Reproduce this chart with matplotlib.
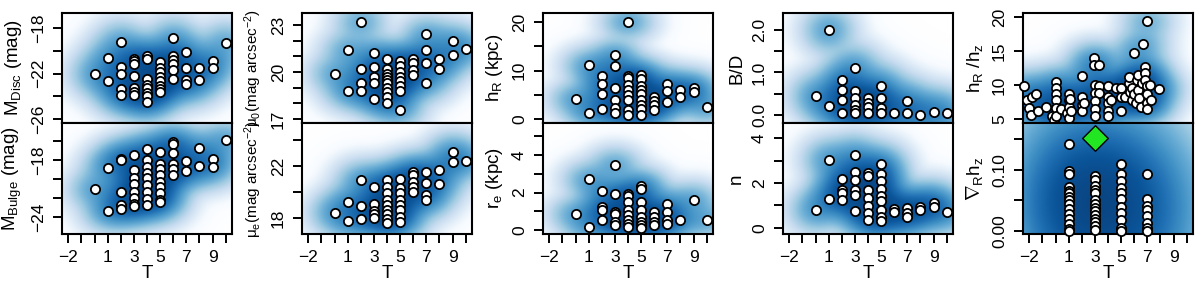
import numpy as np
import matplotlib
matplotlib.use("Agg")
import matplotlib.pyplot as plt
from matplotlib.colors import LinearSegmentedColormap

plt.rcParams['font.family'] = ['Liberation Sans', 'DejaVu Sans']
plt.rcParams['mathtext.fontset'] = 'custom'
plt.rcParams['mathtext.rm'] = 'Liberation Sans'
plt.rcParams['mathtext.it'] = 'Liberation Sans:italic'

# ---- data ----
t_disc = [0, 1, 1, 2, 2, 2, 2, 2, 3, 3, 3, 3, 3, 3, 3, 4, 4, 4, 4, 4, 4, 4, 4,
          5, 5, 5, 5, 5, 5, 5, 5, 6, 6, 6, 6, 6, 6, 7, 7, 7, 7, 8, 8, 9, 9, 10]
m_disc = [-22.0, -20.6, -22.7, -19.2, -21.4, -22.0, -23.4, -23.9,
          -20.7, -20.9, -21.2, -22.2, -23.3, -23.6, -23.9,
          -20.5, -20.7, -22.5, -23.0, -23.3, -23.7, -24.0, -24.5,
          -21.0, -21.5, -21.9, -22.3, -22.7, -23.1, -23.4, -23.6,
          -18.9, -20.5, -20.8, -21.2, -21.7, -22.5,
          -20.1, -21.5, -22.6, -22.9, -21.5, -22.6, -20.9, -21.5, -19.3]

t_bulge = [0, 1, 1, 2, 2, 2, 2, 2, 3, 3, 3, 3, 3, 3, 3, 3, 4, 4, 4, 4, 4, 4, 4, 4, 4,
           5, 5, 5, 5, 5, 5, 5, 5, 5, 6, 6, 6, 6, 6, 6, 7, 7, 8, 8, 9, 9, 10]
m_bulge = [-21.1, -18.8, -23.4, -17.9, -18.0, -21.4, -22.7, -23.2,
           -17.5, -19.1, -19.9, -20.5, -21.4, -22.0, -22.6, -22.9,
           -16.8, -18.0, -18.7, -19.4, -19.9, -20.6, -21.4, -22.1, -22.7,
           -17.2, -18.4, -18.9, -19.6, -20.3, -20.8, -21.5, -22.2, -22.4,
           -16.1, -16.3, -17.3, -18.4, -18.9, -19.6,
           -18.1, -19.2, -16.7, -18.6, -17.9, -18.7, -15.9]

t_mu0 = [0, 1, 1, 2, 2, 2, 2, 3, 3, 3, 3, 3, 4, 4, 4, 4, 4, 4, 4, 4, 4, 4,
         5, 5, 5, 5, 5, 5, 5, 5, 6, 6, 6, 6, 7, 7, 7, 7, 8, 8, 9, 9, 10]
mu0 = [19.9, 21.4, 18.8, 23.2, 20.2, 19.3, 18.8, 21.2, 20.3, 19.7, 19.3, 18.3,
       20.8, 20.2, 19.9, 19.7, 19.5, 19.3, 19.0, 18.7, 18.4, 18.0,
       20.7, 20.4, 20.0, 19.7, 19.4, 19.1, 18.8, 17.6,
       20.8, 20.6, 20.1, 19.8, 22.4, 21.4, 20.6, 19.3, 20.8, 20.2, 22.0, 21.1, 21.5]

t_mue = [0, 1, 1, 2, 2, 2, 3, 3, 3, 3, 3, 4, 4, 4, 4, 4, 4, 4, 4, 4,
         5, 5, 5, 5, 5, 5, 5, 5, 6, 6, 6, 6, 6, 7, 7, 7, 7, 8, 8, 9, 9, 10]
mue = [18.4, 19.2, 17.8, 20.9, 18.9, 17.9, 20.4, 19.1, 18.5, 18.3, 18.0,
       20.9, 20.4, 19.9, 19.4, 19.0, 18.6, 18.3, 17.9, 17.6,
       21.0, 20.3, 19.9, 19.4, 19.0, 18.6, 18.1, 17.7,
       21.5, 21.3, 20.8, 20.4, 20.0, 21.5, 20.7, 19.8, 19.4, 21.7, 20.6, 23.1, 22.3, 22.4]

t_hr = [0, 1, 1, 2, 2, 2, 2, 3, 3, 3, 3, 3, 3, 4, 4, 4, 4, 4, 4, 4, 4, 4,
        5, 5, 5, 5, 5, 5, 5, 5, 5, 6, 6, 6, 6, 7, 7, 7, 8, 8, 9, 9, 10]
hr = [4.1, 11.1, 1.3, 9.0, 7.3, 5.1, 2.0, 13.2, 10.9, 6.5, 3.9, 2.2, 1.3,
      20.1, 9.0, 8.4, 7.0, 6.0, 4.9, 4.0, 1.8, 0.8,
      9.2, 8.2, 6.8, 6.0, 5.1, 4.0, 2.9, 2.0, 0.8,
      4.6, 3.8, 2.9, 1.8, 7.3, 5.8, 3.6, 6.0, 4.6, 6.5, 5.6, 2.5]

t_re = [0, 1, 1, 2, 2, 2, 2, 3, 3, 3, 3, 3, 3, 4, 4, 4, 4, 4, 4, 4, 4,
        5, 5, 5, 5, 5, 5, 5, 5, 6, 6, 6, 6, 7, 7, 7, 7, 8, 9, 10]
re = [0.85, 2.7, 0.18, 2.1, 1.25, 1.1, 0.55, 3.45, 1.9, 0.95, 0.85, 0.45, 0.27,
      1.95, 1.8, 1.5, 1.05, 0.8, 0.57, 0.35, 0.15,
      2.35, 2.2, 1.5, 1.1, 0.7, 0.45, 0.27, 0.1,
      0.95, 0.7, 0.45, 0.27, 1.4, 0.95, 0.55, 0.35, 0.55, 1.6, 0.55]

t_bd = [0, 1, 1, 2, 2, 2, 2, 3, 3, 3, 3, 3, 3, 4, 4, 4, 4, 5, 5, 5, 5, 6, 7, 7, 8, 9, 10]
bd = [0.45, 2.0, 0.2, 0.82, 0.59, 0.35, 0.04, 1.11, 0.57, 0.39, 0.24, 0.12, 0.04,
      0.41, 0.27, 0.18, 0.05, 0.68, 0.41, 0.16, 0.05, 0.04, 0.33, 0.04, 0.0, 0.08, 0.04]

t_n = [0, 1, 1, 2, 2, 2, 2, 3, 3, 3, 3, 3, 3, 4, 4, 4, 4, 4, 4, 4,
       5, 5, 5, 5, 5, 5, 5, 5, 5, 6, 6, 7, 7, 7, 8, 8, 9, 9, 10]
sersic_n = [0.78, 3.04, 1.29, 2.18, 1.7, 1.56, 1.26, 3.23, 2.47, 2.15, 1.7, 1.48, 0.77,
            2.44, 2.3, 1.67, 1.33, 0.96, 0.67, 0.37,
            2.84, 2.41, 2.07, 1.73, 1.41, 1.19, 0.79, 0.49, 0.3,
            0.84, 0.7, 0.89, 0.67, 0.49, 0.92, 0.79, 1.11, 0.93, 0.7]

t_ratio = [-2.4, -2.15, -2.0, -1.9, -1.8, -1.5, -1.3, -0.7, -0.3, -0.1,
           0.0, 0.0, 0.0, 0.0, 0.0, 0.0, 0.4, 0.9, 1.0, 1.0, 1.0, 1.0, 1.1, 1.2,
           2.0, 2.0, 2.0, 2.0, 2.2, 2.9, 2.9, 3.3, 3.0, 3.3, 3.0, 3.3, 3.0, 3.0, 3.0,
           4.0, 4.0, 4.0, 4.0, 4.0, 4.2, 4.6, 5.0, 5.0, 5.0, 5.3, 5.6, 5.6, 5.7, 5.8, 5.8,
           6.0, 6.0, 6.1, 6.2, 6.3, 6.3, 6.4, 6.5, 6.6, 6.7, 6.8, 6.8, 6.8,
           7.0, 7.0, 7.0, 7.0, 7.0, 7.2, 7.3, 7.9]
hr_hz = [9.9, 7.8, 6.6, 5.6, 8.3, 8.6, 6.1, 6.8, 5.4, 4.9,
         10.5, 9.5, 8.6, 7.8, 6.6, 5.4, 6.4, 5.9, 8.6, 7.8, 6.8, 5.1, 7.9, 6.1,
         11.3, 8.3, 7.1, 6.1, 7.3, 13.9, 12.9, 12.9, 10.0, 9.9, 8.8, 8.8, 7.6, 6.4, 5.5,
         9.9, 8.3, 7.3, 6.1, 5.4, 7.8, 9.5, 9.5, 8.3, 6.1, 8.3, 10.3, 11.2, 9.0, 9.5, 7.8,
         14.7, 8.6, 7.3, 10.7, 11.5, 9.3, 8.1, 6.8, 10.3, 16.1, 12.7, 11.7, 10.7,
         19.4, 9.8, 8.6, 7.3, 6.4, 10.0, 7.8, 9.4]

t_grad = [1, 1, 1, 1, 1, 1, 1, 1, 1, 1, 1, 1, 1, 1, 1,
          3, 3, 3, 3, 3, 3, 3, 3, 3, 3, 3, 3, 3, 3,
          5, 5, 5, 5, 5, 5, 5, 5, 5, 5, 5,
          7, 7, 7, 7, 7, 7, 7, 7]
grad_hz = [0.143, 0.099, 0.093, 0.072, 0.066, 0.062, 0.056, 0.051, 0.044, 0.036,
           0.028, 0.020, 0.012, 0.004, 0.0,
           0.090, 0.083, 0.073, 0.067, 0.062, 0.051, 0.044, 0.037, 0.032, 0.026,
           0.020, 0.015, 0.008, 0.001,
           0.110, 0.093, 0.082, 0.070, 0.062, 0.053, 0.040, 0.029, 0.018, 0.005, 0.0,
           0.093, 0.053, 0.041, 0.034, 0.024, 0.013, 0.005, 0.0]

t_star, grad_star = [3], [0.152]

ss_cmap = LinearSegmentedColormap.from_list(
    'smooth', ['#FFFFFF', '#F7FBFF', '#DEEBF7', '#C6DBEF', '#9ECAE1',
               '#6BAED6', '#4292C6', '#2171B5', '#0B559A', '#0A4684'])

XLIM = (-2.48, 10.48)


def smooth_panel(ax, x, y, ylim, bwx, bwy, yticks, ylabels, ylab, lab_size=13.5):
    x = np.asarray(x, float); y = np.asarray(y, float)
    gx = np.linspace(XLIM[0], XLIM[1], 260)
    gy = np.linspace(ylim[0], ylim[1], 160)
    X, Y = np.meshgrid(gx, gy)
    z = np.zeros_like(X)
    for xi, yi in zip(x, y):
        z += np.exp(-0.5 * ((X - xi) / bwx) ** 2 - 0.5 * ((Y - yi) / bwy) ** 2)
    z = (z / z.max()) ** 0.25
    ax.imshow(z, extent=(XLIM[0], XLIM[1], ylim[0], ylim[1]), origin='lower',
              aspect='auto', cmap=ss_cmap, vmin=0, vmax=1,
              interpolation='bilinear', zorder=0)
    ax.scatter(x, y, s=44, facecolor='white', edgecolor='black', linewidth=1.3,
               zorder=3, clip_on=False)
    ax.set_xlim(*XLIM)
    ax.set_ylim(*ylim)
    ax.set_yticks(yticks)
    ax.set_yticklabels(ylabels, rotation=90, va='center')
    ax.set_ylabel(ylab, fontsize=lab_size, labelpad=5)
    for s in ax.spines.values():
        s.set_linewidth(1.5)
    ax.tick_params(direction='out', length=6.5, width=1.4, labelsize=12.5, pad=5)


fig = plt.figure(figsize=(12, 2.85), dpi=100)
W = 1200.0; H = 285.0
lefts = [62, 302, 543, 783, 1023]
axes = []
for c, l in enumerate(lefts):
    top = fig.add_axes([l / W, (H - 123) / H, 170 / W, 110 / H])
    bot = fig.add_axes([l / W, (H - 234) / H, 170 / W, 111 / H])
    axes.append((top, bot))

xt = list(range(-2, 11))
xl = ['\u22122', '', '', '1', '', '3', '', '5', '', '7', '', '9', '']

# column 1
a, b = axes[0]
smooth_panel(a, t_disc, m_disc, (-26.36, -16.67), 1.0, 1.0,
             [-26, -24, -22, -20, -18], ['\u221226', '', '\u221222', '', '\u221218'],
             r'M$_{\mathrm{Disc}}$ (mag)')
smooth_panel(b, t_bulge, m_bulge, (-25.8, -14.1), 1.0, 1.1,
             [-24, -22, -20, -18, -16], ['\u221224', '', '', '\u221218', ''],
             r'M$_{\mathrm{Bulge}}$ (mag)')

# column 2
a, b = axes[1]
smooth_panel(a, t_mu0, mu0, (16.74, 23.77), 1.0, 0.65,
             [17, 18, 19, 20, 21, 22, 23], ['17', '', '', '20', '', '', '23'],
             'μ$_0$(mag arcsec$^{-2}$)', lab_size=11)
smooth_panel(b, t_mue, mue, (16.77, 25.3), 1.0, 0.8,
             [18, 20, 22, 24], ['18', '', '22', ''],
             'μ$_{\\mathrm{e}}$(mag arcsec$^{-2}$)', lab_size=11)

# column 3
a, b = axes[2]
smooth_panel(a, t_hr, hr, (-0.8, 21.9), 1.0, 1.9,
             [0, 5, 10, 15, 20], ['0', '', '10', '', '20'],
             r'h$_{\mathrm{R}}$ (kpc)')
smooth_panel(b, t_re, re, (-0.2, 5.7), 1.0, 0.5,
             [0, 1, 2, 3, 4, 5], ['0', '', '2', '', '4', ''],
             r'r$_{\mathrm{e}}$ (kpc)')

# column 4
a, b = axes[3]
smooth_panel(a, t_bd, bd, (-0.19, 2.4), 1.0, 0.28,
             [0, 0.5, 1.0, 1.5, 2.0], ['0.0', '', '1.0', '', '2.0'], 'B/D')
smooth_panel(b, t_n, sersic_n, (-0.27, 4.67), 1.0, 0.5,
             [0, 1, 2, 3, 4], ['0', '', '2', '', '4'], 'n')

# column 5
a, b = axes[4]
smooth_panel(a, t_ratio, hr_hz, (4.4, 20.6), 1.0, 1.4,
             [5, 10, 15, 20], ['5', '10', '15', '20'],
             r'h$_{\mathrm{R}}$ /h$_{\mathrm{z}}$')
smooth_panel(b, t_grad, grad_hz, (-0.005, 0.177), 2.6, 0.07,
             [0.0, 0.05, 0.10, 0.15], ['0.00', '', '0.10', ''],
             r'$\nabla_{\mathrm{R}}$h$_{\mathrm{z}}$')
b.scatter(t_star, grad_star, marker='D', s=170, facecolor='#22e622',
          edgecolor='black', linewidth=1.0, zorder=5, clip_on=False)

for c, (a, b) in enumerate(axes):
    a.set_xticks([])
    b.set_xticks(xt)
    b.set_xticklabels(xl)
    b.set_xlabel('T', fontsize=13.5, labelpad=0)

fig.savefig('out.png', dpi=100)
